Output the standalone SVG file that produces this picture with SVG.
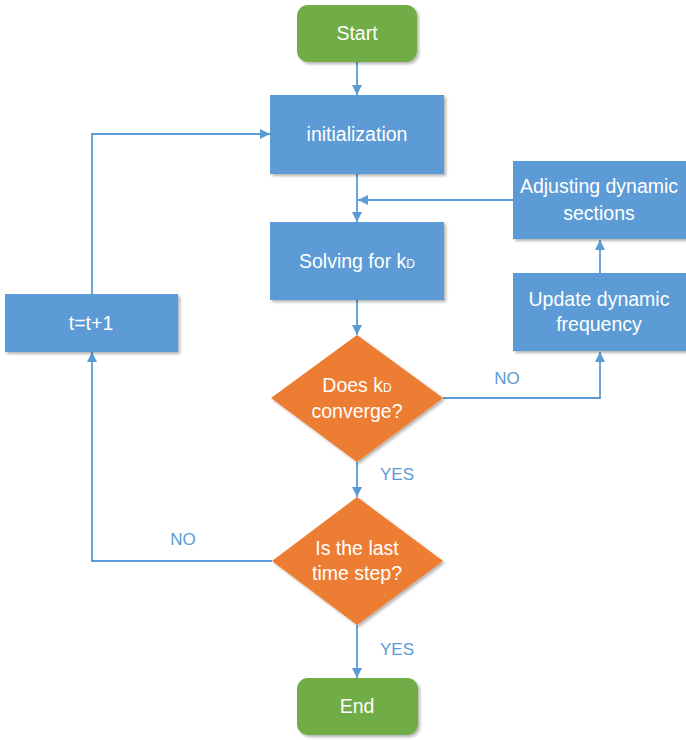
<svg xmlns="http://www.w3.org/2000/svg" width="686" height="740" viewBox="0 0 686 740">
<defs>
<filter id="sh" x="-10%" y="-10%" width="130%" height="130%">
<feGaussianBlur in="SourceAlpha" stdDeviation="1.5"/>
<feOffset dx="2" dy="2" result="b"/>
<feComponentTransfer><feFuncA type="linear" slope="0.3"/></feComponentTransfer>
<feMerge><feMergeNode/><feMergeNode in="SourceGraphic"/></feMerge>
</filter>
<marker id="ah" viewBox="0 0 10 10" refX="10" refY="5" markerWidth="10" markerHeight="10" markerUnits="userSpaceOnUse" orient="auto">
<path d="M0,0 L10,5 L0,10 z" fill="#5B9BD5"/>
</marker>
<style>
.box{fill:#5B9BD5;filter:url(#sh)}
.term{fill:#70AD47;filter:url(#sh)}
.dec{fill:#ED7D31;filter:url(#sh)}
.t{font-family:"Liberation Sans",Arial,sans-serif;font-size:19.5px;fill:#fff;text-anchor:middle}
.sub{font-size:12px}
.lbl{font-family:"Liberation Sans",Arial,sans-serif;font-size:17px;fill:#5B9BD5;text-anchor:middle}
.c{fill:none;stroke:#5B9BD5;stroke-width:1.8}
</style>
</defs>
<rect width="686" height="740" fill="#fff"/>
<g id="connectors">
<path class="c" d="M357,62 V95" marker-end="url(#ah)"/>
<path class="c" d="M357,174 V222" marker-end="url(#ah)"/>
<path class="c" d="M513,200 H358" marker-end="url(#ah)"/>
<path class="c" d="M357,300 V335" marker-end="url(#ah)"/>
<path class="c" d="M443,398 H600 V352" marker-end="url(#ah)"/>
<path class="c" d="M600,273 V240" marker-end="url(#ah)"/>
<path class="c" d="M357,462 V497" marker-end="url(#ah)"/>
<path class="c" d="M357,625 V678" marker-end="url(#ah)"/>
<path class="c" d="M272,561 H92 V352" marker-end="url(#ah)"/>
<path class="c" d="M92,294 V134 H270" marker-end="url(#ah)"/>
<text class="lbl" x="507" y="384">NO</text>
<text class="lbl" x="397" y="480">YES</text>
<text class="lbl" x="183" y="545">NO</text>
<text class="lbl" x="397" y="655">YES</text>
</g>
<g id="start">
<rect class="term" x="297" y="5" width="120" height="57" rx="11"/>
<text class="t" x="357" y="40">Start</text>
</g>
<g id="init">
<rect class="box" x="270" y="95" width="174" height="79"/>
<text class="t" x="357" y="141">initialization</text>
</g>
<g id="solve">
<rect class="box" x="270" y="222" width="174" height="78"/>
<text class="t" x="357" y="268">Solving for k<tspan class="sub">D</tspan></text>
</g>
<g id="adjust">
<rect class="box" x="513" y="161" width="176" height="78"/>
<text class="t" x="599" y="193">Adjusting dynamic</text>
<text class="t" x="599" y="220">sections</text>
</g>
<g id="update">
<rect class="box" x="513" y="273" width="176" height="78"/>
<text class="t" x="599" y="306">Update dynamic</text>
<text class="t" x="599" y="331">frequency</text>
</g>
<g id="converge">
<polygon class="dec" points="357,335 443,398 357,462 271,398"/>
<text class="t" x="357" y="392">Does k<tspan class="sub">D</tspan></text>
<text class="t" x="357" y="418">converge?</text>
</g>
<g id="laststep">
<polygon class="dec" points="357,497 443,561 357,625 272,561"/>
<text class="t" x="357" y="555">Is the last</text>
<text class="t" x="357" y="580">time step?</text>
</g>
<g id="tinc">
<rect class="box" x="5" y="294" width="173" height="58"/>
<text class="t" x="91" y="330">t=t+1</text>
</g>
<g id="end">
<rect class="term" x="297" y="678" width="121" height="57" rx="11"/>
<text class="t" x="357" y="713">End</text>
</g>
</svg>
